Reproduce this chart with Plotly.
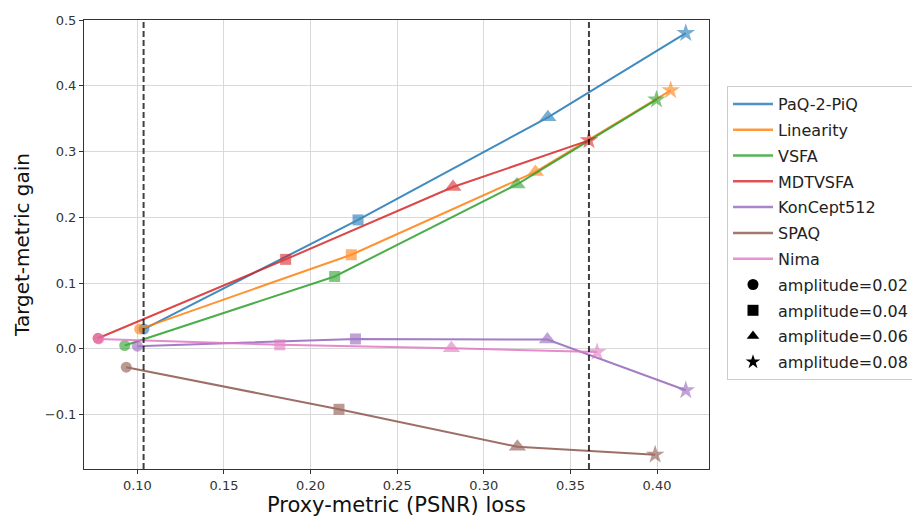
import plotly.graph_objects as go

# ---- data ----
series_names = ["PaQ-2-PiQ", "Linearity", "VSFA", "MDTVSFA", "KonCept512", "SPAQ", "Nima"]
series_colors = ["#1f77b4", "#ff7f0e", "#2ca02c", "#d62728", "#9467bd", "#8c564b", "#e377c2"]

amplitude_labels = ["amplitude=0.02", "amplitude=0.04", "amplitude=0.06", "amplitude=0.08"]
amplitude_symbols = ["circle", "square", "triangle-up", "star"]
amplitude_sizes = [11, 11, 15, 14]

# proxy-metric (PSNR) loss per amplitude
paq_x = [0.1038, 0.2274, 0.3370, 0.4166]
lin_x = [0.1013, 0.2235, 0.3298, 0.4079]
vsfa_x = [0.0927, 0.2139, 0.3192, 0.3997]
mdt_x = [0.0773, 0.1856, 0.2822, 0.3607]
kon_x = [0.1000, 0.2259, 0.3367, 0.4166]
spaq_x = [0.0936, 0.2164, 0.3194, 0.3989]
nima_x = [0.0778, 0.1822, 0.2813, 0.3654]

# target-metric gain per amplitude
paq_y = [0.030, 0.196, 0.352, 0.480]
lin_y = [0.030, 0.143, 0.269, 0.393]
vsfa_y = [0.005, 0.110, 0.250, 0.379]
mdt_y = [0.016, 0.136, 0.246, 0.317]
kon_y = [0.004, 0.015, 0.014, -0.063]
spaq_y = [-0.028, -0.092, -0.149, -0.161]
nima_y = [0.015, 0.006, 0.001, -0.005]

series_x = [paq_x, lin_x, vsfa_x, mdt_x, kon_x, spaq_x, nima_x]
series_y = [paq_y, lin_y, vsfa_y, mdt_y, kon_y, spaq_y, nima_y]

thresholds = [0.1036, 0.3607]

x_ticks = [0.10, 0.15, 0.20, 0.25, 0.30, 0.35, 0.40]
x_tick_labels = ["0.10", "0.15", "0.20", "0.25", "0.30", "0.35", "0.40"]
y_ticks = [-0.1, 0.0, 0.1, 0.2, 0.3, 0.4, 0.5]
y_tick_labels = ["\u22120.1", "0.0", "0.1", "0.2", "0.3", "0.4", "0.5"]

x_range = [0.0692, 0.4300]
y_range = [-0.1828, 0.5]

FONT = "DejaVu Sans"

fig = go.Figure()

# threshold dashed lines
for t in thresholds:
    fig.add_shape(type="line", xref="x", yref="paper", x0=t, x1=t, y0=0, y1=1,
                  line=dict(color="rgba(0,0,0,0.75)", width=2, dash="6px,3px"), layer="above")

# data series
for name, color, xs, ys in zip(series_names, series_colors, series_x, series_y):
    fig.add_trace(go.Scatter(
        x=xs, y=ys, mode="lines+markers", showlegend=False, opacity=0.85,
        line=dict(color=color, width=2),
        marker=dict(symbol=amplitude_symbols, size=amplitude_sizes, color=color,
                    line=dict(width=0)),
        hoverinfo="skip",
    ))

# legend entries: series as lines
for i, (name, color) in enumerate(zip(series_names, series_colors)):
    fig.add_trace(go.Scatter(
        x=[None], y=[None], mode="lines", name=name, legendgroup=f"g{i}",
        opacity=0.8, line=dict(color=color, width=2.5),
    ))
# legend entries: amplitudes as black markers
for j, (lab, sym) in enumerate(zip(amplitude_labels, amplitude_symbols)):
    fig.add_trace(go.Scatter(
        x=[None], y=[None], mode="markers", name=lab, legendgroup=f"a{j}",
        marker=dict(symbol=sym, size=11, color="black"),
    ))

fig.update_layout(
    width=912, height=517,
    margin=dict(l=84, r=203, t=20, b=48, autoexpand=False),
    paper_bgcolor="white", plot_bgcolor="white",
    font=dict(family=FONT, size=13, color="#222"),
    legend=dict(
        x=1.0288, y=0.853, xanchor="left", yanchor="top",
        font=dict(family=FONT, size=16, color="#222"),
        bordercolor="#cccccc", borderwidth=1, bgcolor="white",
        traceorder="grouped", tracegroupgap=2, itemwidth=40,
    ),
    xaxis=dict(
        range=x_range, tickvals=x_ticks, ticktext=x_tick_labels,
        showgrid=True, gridcolor="#d9d9d9", gridwidth=1, zeroline=False,
        showline=True, linecolor="#333", linewidth=1, mirror=True,
        ticks="outside", ticklen=4, tickcolor="#333",
        tickfont=dict(family=FONT, size=13, color="#333"),
        title=dict(text="Proxy-metric (PSNR) loss", font=dict(family=FONT, size=21, color="#111"), standoff=2),
    ),
    yaxis=dict(
        range=y_range, tickvals=y_ticks, ticktext=y_tick_labels,
        showgrid=True, gridcolor="#d9d9d9", gridwidth=1, zeroline=False,
        showline=True, linecolor="#333", linewidth=1, mirror=True,
        ticks="outside", ticklen=4, tickcolor="#333",
        tickfont=dict(family=FONT, size=13, color="#333"),
        title=dict(text="Target-metric gain", font=dict(family=FONT, size=20, color="#111"), standoff=9),
    ),
)

fig.write_html("out.html")
